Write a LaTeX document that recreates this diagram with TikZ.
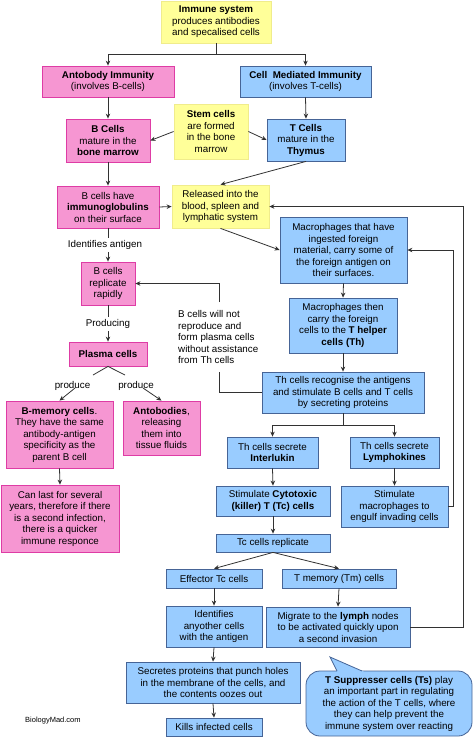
\documentclass[tikz,border=0pt]{standalone}
\usepackage{fontspec}
\setmainfont{Liberation Sans}
\usetikzlibrary{arrows.meta}
\definecolor{pinkfill}{RGB}{246,150,210}
\definecolor{pinkline}{RGB}{222,60,165}
\definecolor{bluefill}{RGB}{153,204,255}
\definecolor{blueline}{RGB}{70,100,150}
\definecolor{yellowfill}{RGB}{255,255,153}
\definecolor{yellowline}{RGB}{240,236,140}
\definecolor{linegrey}{RGB}{50,50,50}
\tikzset{
  box/.style={draw, line width=0.8pt, align=center, inner sep=0pt,
    font=\fontsize{9.8}{11.5}\selectfont},
  pinkbox/.style={box, draw=pinkline, fill=pinkfill},
  bluebox/.style={box, draw=blueline, fill=bluefill},
  yellowbox/.style={box, draw=yellowline, fill=yellowfill},
  lbl/.style={inner sep=2pt, align=center, font=\fontsize{9.8}{11.5}\selectfont},
  conn/.style={line width=0.8pt, draw=linegrey},
  arr/.style={conn, -{Stealth[length=5pt,width=4.5pt]}}
}
\begin{document}
\begin{tikzpicture}[x=1pt, y=-1pt]
\useasboundingbox (0,0) rectangle (473,737);
% B cell side
\node[yellowbox, minimum width=110pt, minimum height=42pt] (imm) at (216,22) {\textbf{Immune system}\\produces antibodies\\and specalised cells};
\node[pinkbox, minimum width=132pt, minimum height=31pt] (abi) at (108,81.5) {\textbf{Antobody Immunity}\\(involves B-cells)};
\node[bluebox, minimum width=131pt, minimum height=31pt] (cmi) at (305.5,81.5) {\textbf{Cell~~Mediated Immunity}\\(involves T-cells)};
\node[pinkbox, minimum width=84pt, minimum height=43pt] (bc) at (108,140.5) {\textbf{B Cells}\\mature in the\\\textbf{bone marrow}};
\node[yellowbox, minimum width=74pt, minimum height=55pt] (stem) at (211,131.5) {\textbf{Stem cells}\\are formed\\in the bone\\marrow};
\node[bluebox, minimum width=78pt, minimum height=42pt] (tc) at (306,140) {\textbf{T Cells}\\mature in the\\\textbf{Thymus}};
\node[pinkbox, minimum width=102pt, minimum height=42pt] (bhave) at (108,207) {B cells have\\\textbf{immunoglobulins}\\on their surface};
\node[yellowbox, minimum width=97pt, minimum height=43pt] (rel) at (220.5,206.5) {Released into the\\blood, spleen and\\lymphatic system};
\node[lbl] (idlab) at (105,245) {Identifies antigen};
\node[pinkbox, minimum width=54pt, minimum height=43pt] (brep) at (108,283.5) {B cells\\replicate\\rapidly};
\node[lbl] (prodlab) at (108,324) {Producing};
\node[pinkbox, minimum width=78pt, minimum height=24pt] (plasma) at (108,354) {\textbf{Plasma cells}};
\node[lbl] (prod1) at (72.5,386) {produce};
\node[lbl] (prod2) at (136,386) {produce};
\node[pinkbox, minimum width=107pt, minimum height=67pt] (bmem) at (59.5,434.5) {\textbf{B-memory cells}.\\They have the same\\antibody-antigen\\specificity as the\\parent B cell};
\node[pinkbox, minimum width=77pt, minimum height=54pt] (antb) at (161.5,428) {\textbf{Antobodies},\\releasing\\them into\\tissue fluids};
\node[pinkbox, minimum width=118pt, minimum height=67pt] (canlast) at (60,518.5) {Can last for several\\years, therefore if there\\is a second infection,\\there is a quicker\\immune responce};
\node[lbl, align=left, anchor=west] (bnote) at (176,337) {B cells will not\\reproduce and\\form plasma cells\\without assistance\\from Th cells};
% T cell side
\node[bluebox, minimum width=127pt, minimum height=66pt] (mac1) at (343.5,250) {Macrophages that have\\ingested foreign\\material, carry some of\\the foreign antigen on\\their surfaces.};
\node[bluebox, minimum width=108pt, minimum height=55pt] (mac2) at (343,325.5) {Macrophages then\\carry the foreign\\cells to the \textbf{T helper}\\\textbf{cells (Th)}};
\node[bluebox, minimum width=162pt, minimum height=41pt] (threc) at (343,392.5) {Th cells recognise the antigens\\and stimulate B cells and T cells\\by secreting proteins};
\node[bluebox, minimum width=91pt, minimum height=31pt] (inter) at (272.5,452.5) {Th cells secrete\\\textbf{Interlukin}};
\node[bluebox, minimum width=89pt, minimum height=31pt] (lympho) at (394.5,452.5) {Th cells secrete\\\textbf{Lymphokines}};
\node[bluebox, minimum width=114pt, minimum height=30pt] (cyto) at (273,501) {Stimulate \textbf{Cytotoxic}\\\textbf{(killer) T (Tc) cells}};
\node[bluebox, minimum width=107pt, minimum height=41pt] (stimmac) at (394.5,506.5) {Stimulate\\macrophages to\\engulf invading cells};
\node[bluebox, minimum width=114pt, minimum height=18pt] (tcrep) at (273,543) {Tc cells replicate};
\node[bluebox, minimum width=96pt, minimum height=19pt] (eff) at (214,578.5) {Effector Tc cells};
\node[bluebox, minimum width=114pt, minimum height=19pt] (tmem) at (339,578.5) {T memory (Tm) cells};
\node[bluebox, minimum width=96pt, minimum height=41pt] (ident) at (214,626.5) {Identifies\\anyother cells\\with the antigen};
\node[bluebox, minimum width=144pt, minimum height=40pt] (migr) at (338,627) {Migrate to the \textbf{lymph} nodes\\to be activated quickly upon\\a second invasion};
\node[bluebox, minimum width=174pt, minimum height=41pt] (secr) at (213,682.5) {Secretes proteins that punch holes\\in the membrane of the cells, and\\the contents oozes out};
\node[bluebox, minimum width=96pt, minimum height=18pt] (kills) at (214,727) {Kills infected cells};
\node[bluebox, rounded corners=14pt, minimum width=166pt, minimum height=65pt] (tsup) at (389,703.5) {\textbf{T Suppresser cells (Ts)} play\\an important part in regulating\\the action of the T cells, where\\they can help prevent the\\immune system over reacting};
\fill[bluefill] (337.5,672) -- (330,657) -- (364.5,672) -- cycle;
\draw[blueline, line width=0.8pt] (337,671) -- (330,657) -- (362,671);
\node[anchor=west, inner sep=0pt, font=\fontsize{7.5}{9}\selectfont] (site) at (25,721) {BiologyMad.com};
% connectors
\draw[arr] (imm.south) -- ++(0,11) -| (abi.north);
\draw[arr] (imm.south) -- ++(0,11) -| (cmi.north);
\draw[arr] (abi.south) -- (bc.north);
\draw[arr] (cmi.south) -- (tc.north);
\draw[arr] (stem.west) -- (bc.east);
\draw[arr] (stem.east) -- (tc.west);
\draw[arr] (tc.south) -- (rel.north);
\draw[arr] (bc.south) -- (bhave.north);
\draw[arr] (bhave.east) -- (rel.west);
\draw[arr] (rel.south) -- (mac1.west);
\draw[conn] (bhave.south) -- (bhave.south |- idlab.north);
\draw[arr] (bhave.south |- idlab.south) -- (brep.north);
\draw[conn] (brep.south) -- (brep.south |- prodlab.north);
\draw[arr] (brep.south |- prodlab.south) -- (plasma.north);
\draw[conn] (93,375) -- (plasma.south) -- (125,375);
\draw[arr] (75,388) -- (bmem.north);
\draw[arr] (143,388) -- (antb.north);
\draw[arr] (bmem.south) -- (canlast.north);
\coordinate (nb1) at (219,372);
\coordinate (nb2) at (219,302);
\draw[conn] (threc.west) -| (nb1);
\draw[arr] (nb2) |- (brep.east);
\draw[arr] (mac1.south) -- (mac2.north);
\draw[arr] (mac2.south) -- (threc.north);
\draw[arr] (threc.south) -- ++(0,12) -| (inter.north);
\draw[arr] (threc.south) -- ++(0,12) -| (lympho.north);
\draw[arr] (inter.south) -- (cyto.north);
\draw[arr] (lympho.south) -- (stimmac.north);
\draw[arr] (stimmac.east) -- ++(5,0) |- (mac1.east);
\draw[arr] (cyto.south) -- (tcrep.north);
\draw[arr] (tcrep.south) -- (eff.north);
\draw[arr] (tcrep.south) -- (tmem.north);
\draw[arr] (eff.south) -- (ident.north);
\draw[arr] (tmem.south) -- (migr.north);
\draw[arr] (ident.south) -- (secr.north);
\draw[arr] (secr.south) -- (kills.north);
\draw[arr] (migr.east) -- ++(53,0) |- (rel.east);
\end{tikzpicture}
\end{document}
